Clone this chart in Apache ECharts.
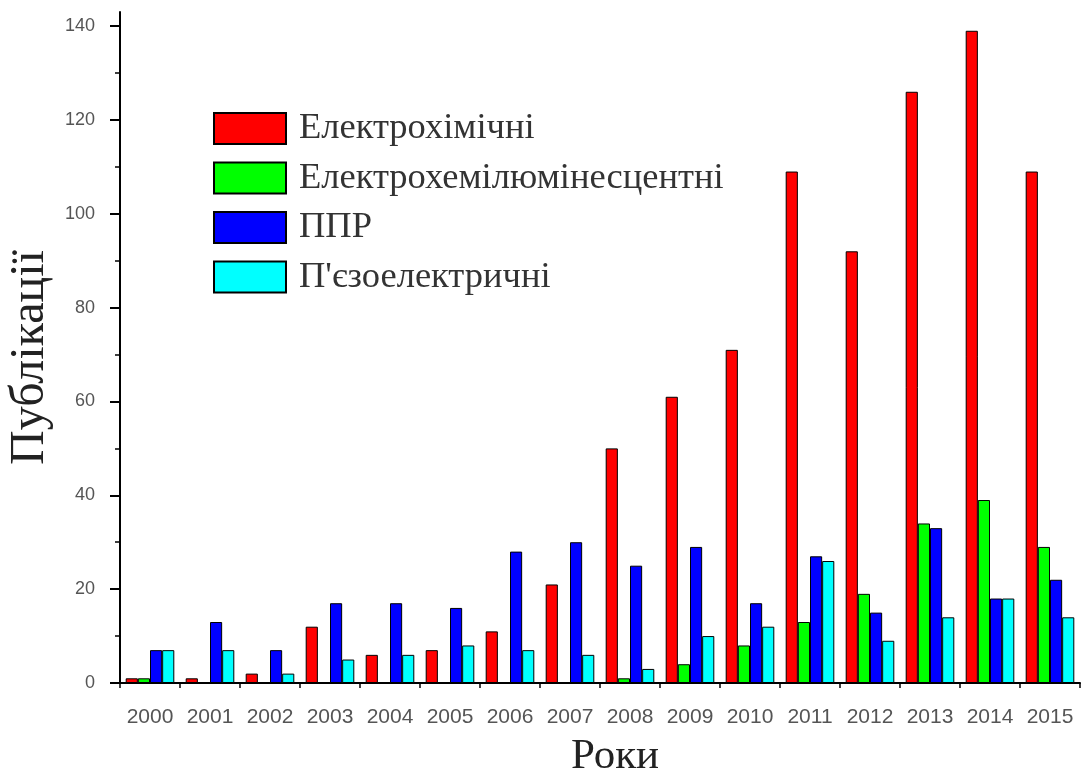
<!DOCTYPE html>
<html><head><meta charset="utf-8">
<script src="https://cdn.jsdelivr.net/npm/echarts@6/dist/echarts.min.js"></script>
<style>html,body{margin:0;padding:0;background:#fff}#c{width:1082px;height:776px}</style>
</head><body><div id="c"></div>
<script>
const years = ['2000','2001','2002','2003','2004','2005','2006','2007','2008','2009','2010','2011','2012','2013','2014','2015'];
const seriesNames = ['Електрохімічні','Електрохемілюмінесцентні','ППР',"П'єзоелектричні"];
const electrochem = [1,1,2,12,6,7,11,21,50,61,71,109,92,126,139,109];
const ecl         = [1,0,0,0,0,0,0,0,1,4,8,13,19,34,39,29];
const spr         = [7,13,7,17,17,16,28,30,25,29,17,27,15,33,18,22];
const piezo       = [7,7,2,5,6,8,7,6,3,10,12,26,9,14,18,14];
const yTicks = [0,20,40,60,80,100,120,140];
const yMinorTicks = [10,30,50,70,90,110,130];
const colors = ['#ff0000','#00ff00','#0000ff','#00ffff'];
const values = [electrochem, ecl, spr, piezo];

const chart = echarts.init(document.getElementById('c'));
chart.setOption({
  animation:false,
  backgroundColor:'#fff',
  legend:{
    orient:'vertical', left:213, top:110, padding:0,
    icon:'rect',
    itemWidth:72, itemHeight:31, itemGap:12.5,
    textStyle:{fontFamily:'Liberation Serif', fontSize:36.5, lineHeight:31, color:'#333', padding:[0,0,0,8]},
    data:seriesNames
  },
  grid:{left:120, right:2, top:12, bottom:93, containLabel:false, outerBoundsMode:'none'},
  xAxis:[{
    type:'category', data:years,
    name:'Роки', nameLocation:'middle', nameGap:52,
    nameTextStyle:{fontFamily:'Liberation Serif', fontSize:43, color:'#222', padding:[0,0,0,30]},
    axisLine:{lineStyle:{color:'#000', width:2}},
    axisTick:{alignWithLabel:true, interval:0, length:13, lineStyle:{color:'#000', width:2}},
    axisLabel:{interval:0, hideOverlap:false, fontFamily:'Liberation Sans', fontSize:21, color:'#555', margin:24}
  },{
    type:'category', data:years, position:'bottom',
    axisLine:{show:false},
    axisTick:{show:true, interval:0, length:5, lineStyle:{color:'#000', width:1.5}},
    axisLabel:{show:false}
  }],
  yAxis:[{
    type:'value', min:0, max:143,
    name:'Публікації', nameLocation:'middle', nameGap:64, nameRotate:90,
    nameTextStyle:{fontFamily:'Liberation Serif', fontSize:48, color:'#222', padding:[0,20,0,0]},
    axisLine:{show:true, lineStyle:{color:'#000', width:2}},
    axisTick:{show:true, length:10, customValues:yTicks, lineStyle:{color:'#000', width:2}},
    axisLabel:{customValues:yTicks, fontFamily:'Liberation Sans', fontSize:18, color:'#555', margin:25},
    splitLine:{show:false}
  },{
    type:'value', min:0, max:143, position:'left',
    axisLine:{show:false},
    axisTick:{show:true, length:5, customValues:yMinorTicks, lineStyle:{color:'#000', width:1.5}},
    axisLabel:{show:false},
    splitLine:{show:false}
  }],
  series: seriesNames.map((n,i)=>({
    name:n, type:'bar', xAxisIndex:0, yAxisIndex:0, data:values[i],
    barGap:'0%', barCategoryGap:'19%',
    itemStyle:{color:colors[i], borderColor:'#000', borderWidth:1}
  }))
});
</script></body></html>
